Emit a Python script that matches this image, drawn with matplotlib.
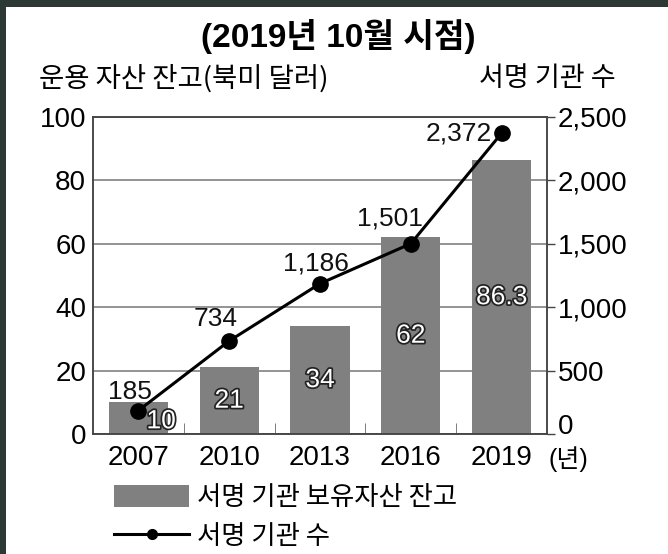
import matplotlib
matplotlib.use("Agg")
import matplotlib.pyplot as plt
import matplotlib.patheffects as pe
from matplotlib.patches import Rectangle
import numpy as np

years = ["2007", "2010", "2013", "2016", "2019"]
assets = [10, 21, 34, 62, 86.3]
asset_labels = ["10", "21", "34", "62", "86.3"]
signers = [185, 734, 1186, 1501, 2372]
signer_labels = ["185", "734", "1,186", "1,501", "2,372"]
left_ticks = [0, 20, 40, 60, 80, 100]
right_ticks = [0, 500, 1000, 1500, 2000, 2500]
right_ticklabels = ["0", "500", "1,000", "1,500", "2,000", "2,500"]

KR = ["Noto Sans CJK KR", "DejaVu Sans"]
NUM = ["Liberation Sans", "Noto Sans CJK KR", "DejaVu Sans"]

W, H = 668, 554
fig = plt.figure(figsize=(W / 100, H / 100), dpi=100)
fig.patch.set_facecolor("#2c3833")
fig.patches.append(Rectangle((6 / W, 0), 1, 1 - 7 / H, transform=fig.transFigure,
                             facecolor="white", edgecolor="none", zorder=-10))

ax = fig.add_axes([93 / W, 1 - 434 / H, (547 - 93) / W, (434 - 117) / H])
ax2 = ax.twinx()

x = np.arange(len(years))
ax.bar(x, assets, width=0.65, color="#808080", zorder=2)
ax.set_ylim(0, 100)
ax.set_xlim(-0.5, len(years) - 0.5)
ax.set_yticks(left_ticks)
ax.set_yticklabels([str(t) for t in left_ticks], family=NUM, fontsize=20)
ax.tick_params(axis="y", length=0, pad=5)
ax.yaxis.grid(True, color="#777777", linewidth=1.1, zorder=0)
ax.set_axisbelow(True)
ax.set_xticks(x)
ax.set_xticklabels(years, family=NUM, fontsize=20)
ax.tick_params(axis="x", which="major", length=0, pad=8)
ax.set_xticks(x[:-1] + 0.5, minor=True)
ax.tick_params(axis="x", which="minor", direction="in", length=8, color="#666666")

for sp in list(ax.spines.values()) + list(ax2.spines.values()):
    sp.set_color("#444444")
    sp.set_linewidth(1.1)

# bar value labels (white with dark outline)
stroke = [pe.withStroke(linewidth=2.5, foreground="#222222")]
for i, (v, lab) in enumerate(zip(assets, asset_labels)):
    dx = 0.25 if i == 0 else 0
    yy = v / 2 if i > 0 else 4
    ax.text(i + dx, yy, lab, ha="center", va="center", color="white",
            family=NUM, fontsize=19, path_effects=stroke, zorder=5)

ax2.plot(x, signers, color="black", linewidth=2.2, marker="o", markersize=11, zorder=4)
ax2.set_ylim(0, 2500)
ax2.set_yticks(right_ticks)
ax2.set_yticklabels(right_ticklabels, family=NUM, fontsize=20)
ax2.tick_params(axis="y", length=6, width=1, color="#444444", pad=2)
# the "0" on the right sits on the axis line in the original
ax2.get_yticklabels()[0].set_va("baseline")

offsets = [(-0.09, 150, "center"), (-0.15, 170, "center"), (-0.05, 160, "center"),
           (-0.23, 195, "center"), (-0.11, 0, "right")]
for xi, v, lab, (dx, dy, ha) in zip(x, signers, signer_labels, offsets):
    ax2.text(xi + dx, v + dy, lab, ha=ha, va="center", family=NUM, fontsize=19, color="#111111")

fig.text(338 / W, 1 - 36 / H, "(2019년 10월 시점)", ha="center", va="center",
         family=NUM, fontsize=24, fontweight="bold")
fig.text(39 / W, 1 - 79 / H, "운용 자산 잔고(북미 달러)", ha="left", va="center",
         family=KR, fontsize=19.8, fontweight="medium")
fig.text(616 / W, 1 - 79 / H, "서명 기관 수", ha="right", va="center",
         family=KR, fontsize=19.5, fontweight="medium")
fig.text(549 / W, 1 - 459 / H, "(년)", ha="left", va="center", family=NUM, fontsize=18)

bar_h = Rectangle((0, 0), 1, 1, facecolor="#808080")
line_h, = ax2.plot([], [], color="black", linewidth=2.2, marker="o", markersize=7)
leg = fig.legend([bar_h, line_h], ["서명 기관 보유자산 잔고", "서명 기관 수"],
                 loc="upper left", bbox_to_anchor=(114 / W, 1 - 484 / H),
                 frameon=False, prop={"family": KR, "size": 19, "weight": "medium"},
                 handlelength=2.85, handleheight=0.9, handletextpad=0.3,
                 labelspacing=0.45, borderpad=0, borderaxespad=0)

fig.savefig("out.png", dpi=100, facecolor=fig.get_facecolor())
